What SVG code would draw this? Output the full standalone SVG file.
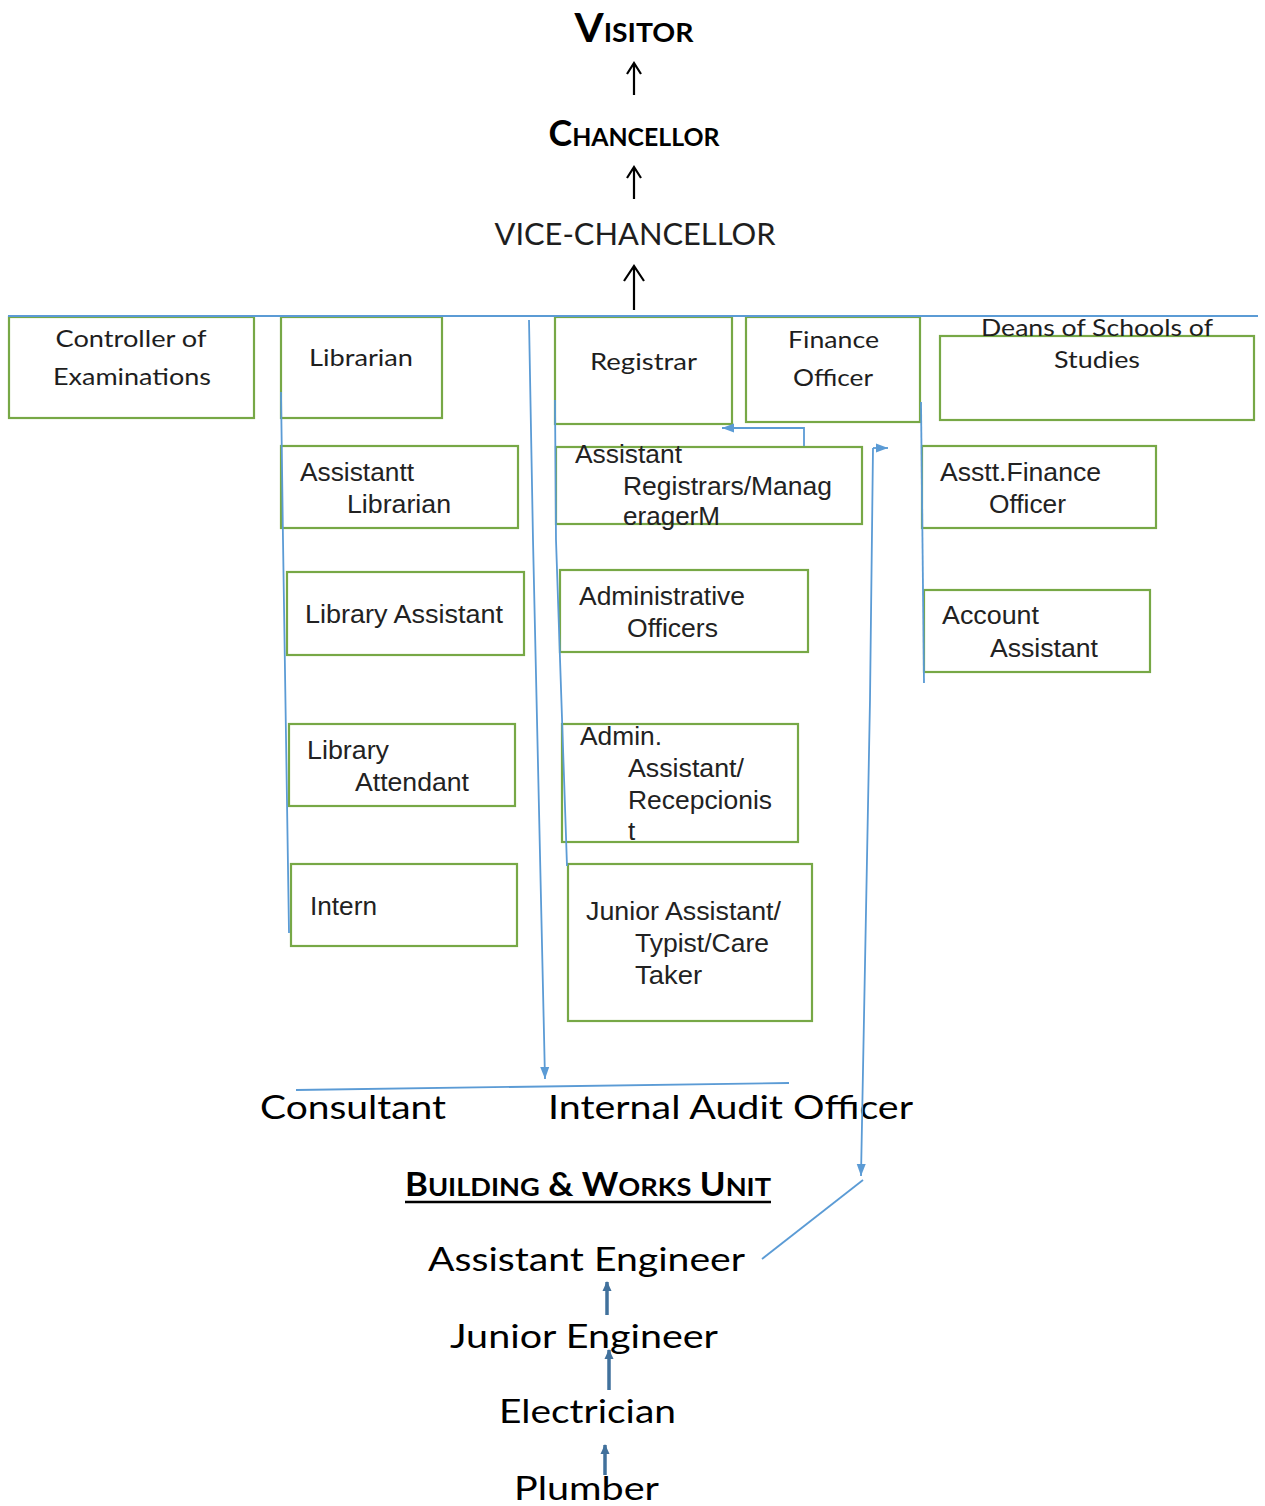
<svg xmlns="http://www.w3.org/2000/svg" width="1265" height="1506" viewBox="0 0 1265 1506">
<style>
  .box { fill: #ffffff; stroke: #77a846; stroke-width: 2.2; }
  .cal { font-family: Lato, "Open Sans", sans-serif; fill: #1e1e1e; }
  .ari { font-family: "Liberation Sans", Arial, sans-serif; font-size: 26px; fill: #222; }
  .lbl { font-size: 23px; }
  .big { font-family: Lato, "Open Sans", sans-serif; font-size: 33px; fill: #000; }
  .hd { font-family: Lato, "Open Sans", sans-serif; font-weight: bold; fill: #000; }
  .conn { fill: none; stroke: #5b9bd5; stroke-width: 1.8; }
  .blk { fill: none; stroke: #000; stroke-width: 2.2; }
  .eng { fill: none; stroke: #41719c; stroke-width: 3.5; }
</style>
<defs>
  <marker id="ab" markerWidth="14" markerHeight="12" refX="12" refY="6" orient="auto" markerUnits="userSpaceOnUse">
    <path d="M0,1.5 L12,6 L0,10.5 Z" fill="#5b9bd5"/>
  </marker>
  <marker id="ae" markerWidth="12" markerHeight="12" refX="9" refY="6" orient="auto" markerUnits="userSpaceOnUse">
    <path d="M0,1.5 L10,6 L0,10.5 Z" fill="#41719c"/>
  </marker>
</defs>

<!-- header -->
<g id="visitor">
  <text class="hd" x="634" y="42" text-anchor="middle" textLength="119" lengthAdjust="spacingAndGlyphs"><tspan font-size="40">V</tspan><tspan font-size="27">ISITOR</tspan></text>
</g>
<g id="chancellor">
  <text class="hd" x="634" y="146" text-anchor="middle" textLength="171" lengthAdjust="spacingAndGlyphs"><tspan font-size="36">C</tspan><tspan font-size="25">HANCELLOR</tspan></text>
</g>
<g id="vice-chancellor">
  <text class="cal" x="635" y="245" font-size="30" fill="#000" text-anchor="middle" textLength="281" lengthAdjust="spacingAndGlyphs">VICE-CHANCELLOR</text>
</g>

<!-- boxes row 1 -->
<g id="controller">
  <rect class="box" x="9" y="317" width="245" height="101"/>
  <text class="cal lbl" x="131" y="347" text-anchor="middle" textLength="151" lengthAdjust="spacingAndGlyphs">Controller of</text>
  <text class="cal lbl" x="132" y="385" text-anchor="middle" textLength="158" lengthAdjust="spacingAndGlyphs">Examinations</text>
</g>
<g id="librarian">
  <rect class="box" x="281" y="317" width="161" height="101"/>
  <text class="cal lbl" x="309" y="366" textLength="104" lengthAdjust="spacingAndGlyphs">Librarian</text>
</g>
<g id="registrar">
  <rect class="box" x="555" y="317" width="177" height="107"/>
  <text class="cal lbl" x="590" y="370" textLength="107" lengthAdjust="spacingAndGlyphs">Registrar</text>
</g>
<g id="finance-officer">
  <rect class="box" x="746" y="317" width="174" height="105"/>
  <text class="cal lbl" x="788" y="348" textLength="91" lengthAdjust="spacingAndGlyphs">Finance</text>
  <text class="cal lbl" x="793" y="386" textLength="80" lengthAdjust="spacingAndGlyphs">Officer</text>
</g>
<g id="deans">
  <rect class="box" x="940" y="336" width="314" height="84"/>
  <text class="cal lbl" x="981" y="336" textLength="232" lengthAdjust="spacingAndGlyphs">Deans of Schools of</text>
  <text class="cal lbl" x="1054" y="368" textLength="86" lengthAdjust="spacingAndGlyphs">Studies</text>
</g>

<!-- row 2 -->
<g id="asst-librarian">
  <rect class="box" x="281" y="446" width="237" height="82"/>
  <text class="ari" x="300" y="481" textLength="114" lengthAdjust="spacingAndGlyphs">Assistantt</text>
  <text class="ari" x="347" y="513" textLength="104" lengthAdjust="spacingAndGlyphs">Librarian</text>
</g>
<g id="asst-registrars">
  <rect class="box" x="556" y="447" width="306" height="77"/>
  <text class="ari" x="575" y="463" textLength="107" lengthAdjust="spacingAndGlyphs">Assistant</text>
  <text class="ari" x="623" y="495" textLength="209" lengthAdjust="spacingAndGlyphs">Registrars/Manag</text>
  <text class="ari" x="623" y="525" textLength="97" lengthAdjust="spacingAndGlyphs">eragerM</text>
</g>
<g id="asst-finance">
  <rect class="box" x="922" y="446" width="234" height="82"/>
  <text class="ari" x="940" y="481" textLength="161" lengthAdjust="spacingAndGlyphs">Asstt.Finance</text>
  <text class="ari" x="989" y="513" textLength="77" lengthAdjust="spacingAndGlyphs">Officer</text>
</g>

<!-- row 3 -->
<g id="library-assistant">
  <rect class="box" x="287" y="572" width="237" height="83"/>
  <text class="ari" x="305" y="623" textLength="198" lengthAdjust="spacingAndGlyphs">Library Assistant</text>
</g>
<g id="admin-officers">
  <rect class="box" x="560" y="570" width="248" height="82"/>
  <text class="ari" x="579" y="605" textLength="166" lengthAdjust="spacingAndGlyphs">Administrative</text>
  <text class="ari" x="627" y="637" textLength="91" lengthAdjust="spacingAndGlyphs">Officers</text>
</g>
<g id="account-assistant">
  <rect class="box" x="924" y="590" width="226" height="82"/>
  <text class="ari" x="942" y="624" textLength="97" lengthAdjust="spacingAndGlyphs">Account</text>
  <text class="ari" x="990" y="657" textLength="108" lengthAdjust="spacingAndGlyphs">Assistant</text>
</g>

<!-- row 4 -->
<g id="library-attendant">
  <rect class="box" x="289" y="724" width="226" height="82"/>
  <text class="ari" x="307" y="759" textLength="82" lengthAdjust="spacingAndGlyphs">Library</text>
  <text class="ari" x="355" y="791" textLength="114" lengthAdjust="spacingAndGlyphs">Attendant</text>
</g>
<g id="admin-assistant">
  <rect class="box" x="562" y="724" width="236" height="118"/>
  <text class="ari" x="580" y="745" textLength="82" lengthAdjust="spacingAndGlyphs">Admin.</text>
  <text class="ari" x="628" y="777" textLength="116" lengthAdjust="spacingAndGlyphs">Assistant/</text>
  <text class="ari" x="628" y="809" textLength="144" lengthAdjust="spacingAndGlyphs">Recepcionis</text>
  <text class="ari" x="628" y="840">t</text>
</g>

<!-- row 5 -->
<g id="intern">
  <rect class="box" x="291" y="864" width="226" height="82"/>
  <text class="ari" x="310" y="915" textLength="67" lengthAdjust="spacingAndGlyphs">Intern</text>
</g>
<g id="junior-assistant">
  <rect class="box" x="568" y="864" width="244" height="157"/>
  <text class="ari" x="586" y="920" textLength="195" lengthAdjust="spacingAndGlyphs">Junior Assistant/</text>
  <text class="ari" x="635" y="952" textLength="134" lengthAdjust="spacingAndGlyphs">Typist/Care</text>
  <text class="ari" x="635" y="984" textLength="67" lengthAdjust="spacingAndGlyphs">Taker</text>
</g>

<!-- lower texts -->
<g id="consultant">
  <text class="big" x="260" y="1119" textLength="186" lengthAdjust="spacingAndGlyphs">Consultant</text>
</g>
<g id="internal-audit">
  <text class="big" x="548" y="1119" textLength="365" lengthAdjust="spacingAndGlyphs">Internal Audit Officer</text>
</g>
<g id="building-works">
  <text class="hd" x="405" y="1196" textLength="366" lengthAdjust="spacingAndGlyphs"><tspan font-size="32">B</tspan><tspan font-size="25">UILDING</tspan><tspan font-size="32"> &amp; W</tspan><tspan font-size="25">ORKS</tspan><tspan font-size="32"> U</tspan><tspan font-size="25">NIT</tspan></text>
  <line x1="405" y1="1202" x2="771" y2="1202" stroke="#000" stroke-width="2.5"/>
</g>
<g id="assistant-engineer">
  <text class="big" x="428" y="1271" textLength="317" lengthAdjust="spacingAndGlyphs">Assistant Engineer</text>
</g>
<g id="junior-engineer">
  <text class="big" x="450" y="1348" textLength="268" lengthAdjust="spacingAndGlyphs">Junior Engineer</text>
</g>
<g id="electrician">
  <text class="big" x="499" y="1423" textLength="177" lengthAdjust="spacingAndGlyphs">Electrician</text>
</g>
<g id="plumber">
  <text class="big" x="514" y="1500" textLength="145" lengthAdjust="spacingAndGlyphs">Plumber</text>
</g>

<!-- connectors -->
<g id="connectors">
  <!-- black up arrows at top -->
  <path class="blk" d="M634,95 L634,64 M627,74 L634,63 L641,74" stroke-width="2"/>
  <path class="blk" d="M634,199 L634,168 M627,178 L634,167 L641,178" stroke-width="2"/>
  <path class="blk" d="M634,310 L634,268 M624,281 L634,266 L644,281" stroke-width="3.2"/>
  <!-- main horizontal blue bus -->
  <line class="conn" x1="8" y1="316" x2="1258" y2="316" stroke-width="2.5"/>
  <!-- librarian column line -->
  <path class="conn" d="M281,392 L283,540 L289,933"/>
  <!-- long line to consultant/audit bar -->
  <path class="conn" d="M529,320 L533,540 L545,1079" marker-end="url(#ab)"/>
  <!-- registrar column line -->
  <path class="conn" d="M555,400 L556,540 L567,866"/>
  <!-- elbow from asst registrars to registrar -->
  <path class="conn" d="M804,446 L804,428 L722,428" marker-end="url(#ab)"/>
  <!-- line to building works -->
  <path class="conn" d="M873,448 L888,448" marker-end="url(#ab)"/>
  <path class="conn" d="M873,448 L870,700 L861,1176" marker-end="url(#ab)"/>
  <!-- finance column line -->
  <path class="conn" d="M921,402 L924,683"/>
  <!-- consultant / audit bar -->
  <line class="conn" x1="296" y1="1090" x2="789" y2="1083" stroke-width="2.2"/>
  <!-- diagonal to assistant engineer -->
  <line class="conn" x1="863" y1="1180" x2="762" y2="1259" stroke-width="2"/>
  <!-- engineering arrows -->
  <line class="eng" x1="607" y1="1315" x2="607" y2="1282" marker-end="url(#ae)"/>
  <line class="eng" x1="609" y1="1390" x2="609" y2="1350" marker-end="url(#ae)"/>
  <line class="eng" x1="605" y1="1475" x2="605" y2="1445" marker-end="url(#ae)"/>
</g>
</svg>
